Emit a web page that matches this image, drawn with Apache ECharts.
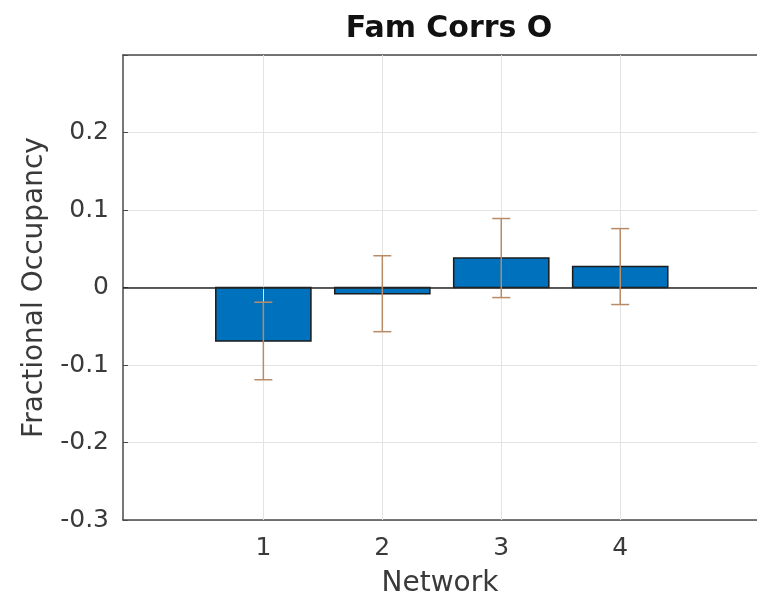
<!DOCTYPE html>
<html>
<head>
<meta charset="utf-8">
<script src="https://cdn.jsdelivr.net/npm/echarts@6/dist/echarts.min.js"></script>
<style>
  html, body { margin: 0; padding: 0; background: #fff; }
  #chart { width: 757px; height: 607px; }
</style>
</head>
<body>
<div id="chart"></div>
<script>
// Network indices, mean fractional occupancy per network and error half-widths
const networks = [1, 2, 3, 4];
const occupancy = [-0.069, -0.008, 0.038, 0.027];
const errors = [0.050, 0.049, 0.051, 0.049];
const yTicks = [-0.3, -0.2, -0.1, 0, 0.1, 0.2, 0.3];

const barData = networks.map((n, i) => [n, occupancy[i]]);
const errData = networks.map((n, i) => [n, occupancy[i] - errors[i], occupancy[i] + errors[i]]);

const font = 'DejaVu Sans';
const textColor = '#3a3a3a';
const gridColor = '#e3e3e3';
const axisColor = '#4a4a4a';

const chart = echarts.init(document.getElementById('chart'), null, { renderer: 'canvas' });

chart.setOption({
  animation: false,
  backgroundColor: '#fff',
  title: {
    text: 'Fam Corrs O',
    left: 444,
    top: 9,
    textAlign: 'center',
    textStyle: { fontFamily: font, fontSize: 30, fontWeight: 'bold', color: '#111' }
  },
  grid: { left: 123, right: 0, top: 55, bottom: 87, containLabel: false },
  xAxis: [{
    type: 'value',
    min: -0.18,
    max: 5.15,
    position: 'bottom',
    name: 'Network',
    nameLocation: 'middle',
    nameGap: 50,
    nameTextStyle: { fontFamily: font, fontSize: 28, color: textColor },
    axisLine: { show: true, onZero: false, lineStyle: { color: axisColor, width: 1.5 } },
    axisTick: { show: true, inside: true, length: 5, customValues: networks, lineStyle: { color: axisColor } },
    axisLabel: {
      show: true, customValues: networks, margin: 16,
      fontFamily: font, fontSize: 25, color: textColor
    },
    splitLine: { show: false }
  }, {
    type: 'value',
    min: -0.18,
    max: 5.15,
    position: 'top',
    axisLine: { show: true, onZero: false, lineStyle: { color: axisColor, width: 1.5 } },
    axisTick: { show: true, inside: true, length: 5, customValues: networks, lineStyle: { color: axisColor } },
    axisLabel: { show: false },
    splitLine: { show: false }
  }],
  yAxis: {
    type: 'value',
    min: yTicks[0],
    max: yTicks[yTicks.length - 1],
    interval: 0.1,
    name: 'Fractional Occupancy',
    nameLocation: 'middle',
    nameGap: 74,
    nameTextStyle: { fontFamily: font, fontSize: 28, color: textColor },
    axisLine: { show: true, onZero: false, lineStyle: { color: axisColor, width: 1.5 } },
    axisTick: { show: true, inside: true, length: 5, lineStyle: { color: axisColor } },
    axisLabel: {
      margin: 14,
      fontFamily: font, fontSize: 25, color: textColor,
      formatter: v => {
        const r = Math.round(v * 10) / 10;
        if (r >= 0.3) return '';
        return r === 0 ? '0' : String(r);
      }
    },
    splitLine: { show: true, lineStyle: { color: gridColor, width: 1 } }
  },
  series: [{
    // vertical grid lines at each network
    type: 'line',
    data: [],
    silent: true,
    markLine: {
      symbol: 'none',
      silent: true,
      label: { show: false },
      data: networks.map(n => ({ xAxis: n, lineStyle: { color: gridColor, width: 1, type: 'solid' } }))
    },
    z: 1
  }, {
    type: 'custom',
    name: 'Fractional Occupancy',
    data: barData,
    z: 3,
    renderItem: (params, api) => {
      const x = api.value(0);
      const y = api.value(1);
      const p0 = api.coord([x - 0.4, 0]);
      const p1 = api.coord([x + 0.4, y]);
      return {
        type: 'rect',
        shape: {
          x: Math.min(p0[0], p1[0]),
          y: Math.min(p0[1], p1[1]),
          width: Math.abs(p1[0] - p0[0]),
          height: Math.abs(p1[1] - p0[1])
        },
        style: { fill: '#0072BD', stroke: '#1b1b1b', lineWidth: 1.5 }
      };
    }
  }, {
    // zero baseline drawn over the bars
    type: 'line',
    data: [],
    silent: true,
    z: 4,
    markLine: {
      symbol: 'none',
      silent: true,
      label: { show: false },
      data: [{ yAxis: 0, lineStyle: { color: '#262626', width: 1.5, type: 'solid' } }]
    }
  }, {
    type: 'custom',
    name: 'Error',
    data: errData,
    z: 5,
    renderItem: (params, api) => {
      const x = api.value(0);
      const lo = api.coord([x, api.value(1)]);
      const hi = api.coord([x, api.value(2)]);
      const cap = 9;
      const style = { stroke: '#b88a66', lineWidth: 1.5 };
      return {
        type: 'group',
        children: [
          { type: 'line', shape: { x1: lo[0], y1: lo[1], x2: hi[0], y2: hi[1] }, style },
          { type: 'line', shape: { x1: lo[0] - cap, y1: lo[1], x2: lo[0] + cap, y2: lo[1] }, style },
          { type: 'line', shape: { x1: hi[0] - cap, y1: hi[1], x2: hi[0] + cap, y2: hi[1] }, style }
        ]
      };
    }
  }]
});
</script>
</body>
</html>
